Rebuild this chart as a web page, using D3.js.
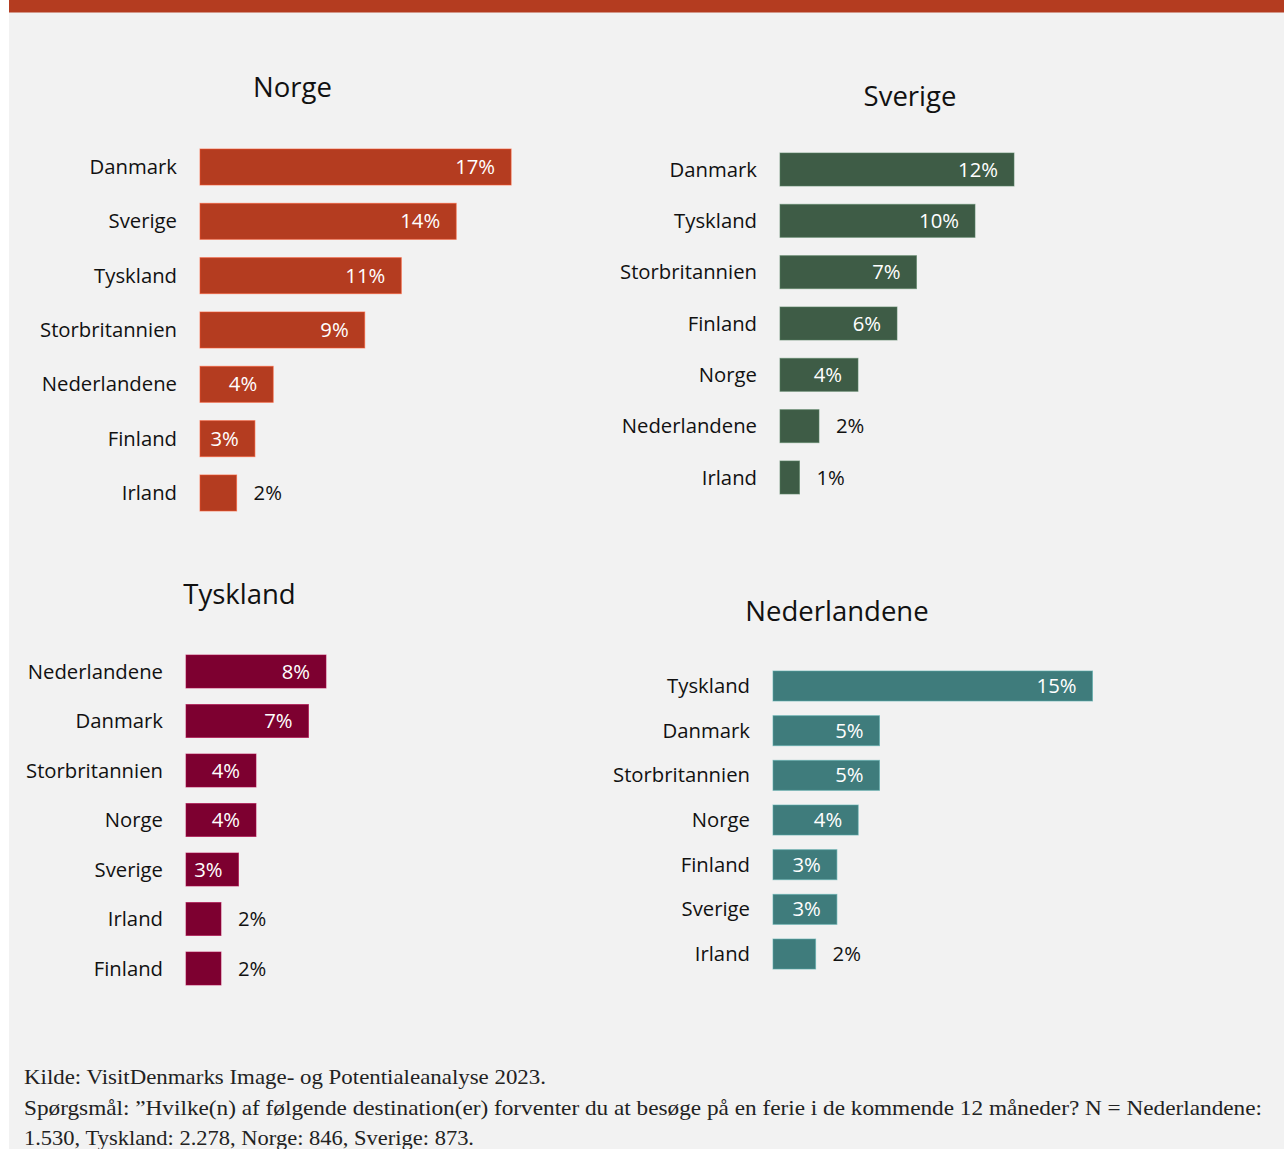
<!DOCTYPE html>
<html>
<head>
<meta charset="utf-8">
<script src="https://cdn.jsdelivr.net/npm/d3@7"></script>
<style>
  html, body { margin: 0; padding: 0; background: #ffffff; }
  svg { display: block; }
</style>
</head>
<body>
<svg id="chart" width="1284" height="1149"></svg>
<script>
// Andel der forventer at besøge destinationen, fordelt på markeder
const norgeCategories = ["Danmark", "Sverige", "Tyskland", "Storbritannien", "Nederlandene", "Finland", "Irland"];
const norgeValues = [17, 14, 11, 9, 4, 3, 2];

const sverigeCategories = ["Danmark", "Tyskland", "Storbritannien", "Finland", "Norge", "Nederlandene", "Irland"];
const sverigeValues = [12, 10, 7, 6, 4, 2, 1];

const tysklandCategories = ["Nederlandene", "Danmark", "Storbritannien", "Norge", "Sverige", "Irland", "Finland"];
const tysklandValues = [8, 7, 4, 4, 3, 2, 2];

const nederlandeneCategories = ["Tyskland", "Danmark", "Storbritannien", "Norge", "Finland", "Sverige", "Irland"];
const nederlandeneValues = [15, 5, 5, 4, 3, 3, 2];

const panelTitles = ["Norge", "Sverige", "Tyskland", "Nederlandene"];

const sourceLines = [
  "Kilde: VisitDenmarks Image- og Potentialeanalyse 2023.",
  "Spørgsmål: ”Hvilke(n) af følgende destination(er) forventer du at besøge på en ferie i de kommende 12 måneder? N = Nederlandene:",
  "1.530, Tyskland: 2.278, Norge: 846, Sverige: 873."
];

const svg = d3.select("#chart");
const W = 1284, H = 1149;
const sansFont = "'Open Sans', 'Noto Sans', sans-serif";
const labelSize = 20.3;

// page background and top banner
svg.append("rect").attr("x", 0).attr("y", 0).attr("width", W).attr("height", H).attr("fill", "#ffffff");
svg.append("rect").attr("x", 9).attr("y", 0).attr("width", W - 9).attr("height", H).attr("fill", "#f2f2f2");
svg.append("rect").attr("x", 9).attr("y", 0).attr("width", W - 9).attr("height", 12.5).attr("fill", "#b43c20");

// layout for each small chart
const panels = [
  { title: panelTitles[0], cats: norgeCategories, vals: norgeValues, color: "#b43c20",
    x0: 200, pxPerPct: 18.3, c0: 167, step: 54.33, barH: 36, tx: 292.5, ty: 97 },
  { title: panelTitles[1], cats: sverigeCategories, vals: sverigeValues, color: "#3e5c46",
    x0: 780, pxPerPct: 19.5, c0: 169.5, step: 51.33, barH: 33, tx: 910, ty: 106 },
  { title: panelTitles[2], cats: tysklandCategories, vals: tysklandValues, color: "#7d0030",
    x0: 186, pxPerPct: 17.5, c0: 671.5, step: 49.5, barH: 33, tx: 239.5, ty: 604 },
  { title: panelTitles[3], cats: nederlandeneCategories, vals: nederlandeneValues, color: "#3f7c7c",
    x0: 773, pxPerPct: 21.3, c0: 686, step: 44.67, barH: 30, tx: 837, ty: 621 }
];

panels.forEach(p => {
  const n = p.cats.length;
  const data = p.cats.map((c, i) => ({ cat: c, val: p.vals[i] }));
  const pi = 1 - p.barH / p.step;

  const x = d3.scaleLinear().domain([0, 1]).range([p.x0, p.x0 + p.pxPerPct]);
  const y = d3.scaleBand()
    .domain(p.cats)
    .range([p.c0 - p.step / 2, p.c0 - p.step / 2 + n * p.step])
    .paddingInner(pi)
    .paddingOuter(pi / 2);

  const g = svg.append("g");

  g.append("text")
    .attr("x", p.tx).attr("y", p.ty)
    .attr("text-anchor", "middle")
    .attr("font-family", sansFont)
    .attr("font-size", 27.5)
    .attr("fill", "#111111")
    .text(p.title);

  // category axis without line or ticks
  const yAxis = d3.axisLeft(y).tickSize(0).tickPadding(23);
  const ax = g.append("g").attr("transform", `translate(${p.x0},0)`).call(yAxis);
  ax.select(".domain").remove();
  ax.selectAll("text")
    .attr("font-family", sansFont)
    .attr("font-size", labelSize)
    .attr("fill", "#111111")
    .attr("dy", "0.35em");

  const stroke = d3.color(p.color).brighter(0.9);
  g.selectAll("rect.bar").data(data).join("rect")
    .attr("class", "bar")
    .attr("x", x(0))
    .attr("y", d => y(d.cat))
    .attr("width", d => x(d.val) - x(0))
    .attr("height", y.bandwidth())
    .attr("fill", p.color)
    .attr("stroke", stroke)
    .attr("stroke-opacity", 0.6)
    .attr("stroke-width", 1);

  g.selectAll("text.val").data(data).join("text")
    .attr("class", "val")
    .attr("x", d => d.val >= 3 ? x(d.val) - 16 : x(d.val) + 17)
    .attr("y", d => y(d.cat) + y.bandwidth() / 2)
    .attr("dy", "0.35em")
    .attr("text-anchor", d => d.val >= 3 ? "end" : "start")
    .attr("font-family", sansFont)
    .attr("font-size", labelSize)
    .attr("fill", d => d.val >= 3 ? "#ffffff" : "#111111")
    .text(d => d.val + "%");
});

// source note
const noteWidths = [522, 1238, 450];
const noteY = [1084, 1115, 1145];
sourceLines.forEach((line, i) => {
  svg.append("text")
    .attr("x", 24).attr("y", noteY[i])
    .attr("font-family", "'Liberation Serif', 'DejaVu Serif', serif")
    .attr("font-size", 21)
    .attr("fill", "#222222")
    .attr("textLength", noteWidths[i])
    .attr("lengthAdjust", "spacingAndGlyphs")
    .text(line);
});
</script>
</body>
</html>
